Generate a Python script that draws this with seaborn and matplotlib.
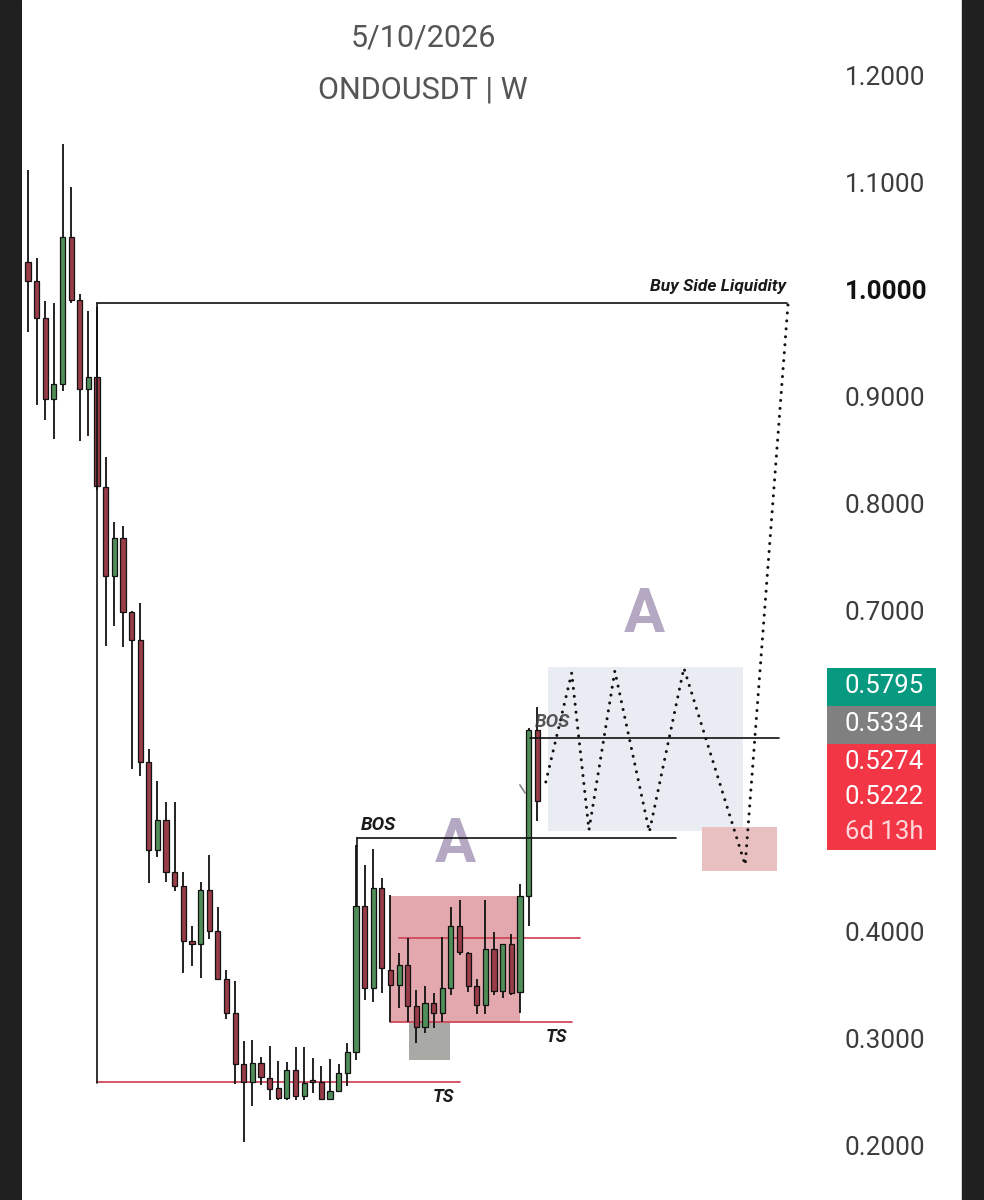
import matplotlib
matplotlib.use("Agg")
import numpy as np
import pandas as pd
import seaborn as sns
import matplotlib.pyplot as plt
import matplotlib.transforms as mtransforms
from matplotlib.patches import Rectangle

# weekly candles, ONDOUSDT
opens = [1.0262, 1.0084, 0.9738, 0.8981, 0.9121, 1.0495, 0.9907, 0.9075, 0.9187, 0.8159,
         0.7327, 0.7682, 0.6991, 0.6729, 0.5589, 0.4766, 0.5047, 0.4561, 0.4430, 0.3916,
         0.3888, 0.4393, 0.4009, 0.3561, 0.3243, 0.2766, 0.2598, 0.2776, 0.2636, 0.2542,
         0.2449, 0.2710, 0.2467, 0.2617, 0.2598, 0.2439, 0.2514, 0.2682, 0.2879, 0.4243,
         0.3477, 0.4411, 0.3645, 0.3505, 0.3692, 0.3308, 0.3112, 0.3336, 0.3243, 0.3477,
         0.4056, 0.3804, 0.3495, 0.3318, 0.3841, 0.3449, 0.3888, 0.3439, 0.4336, 0.5888]
highs = [1.1121, 1.0299, 0.9897, 0.9879, 1.1364, 1.0963, 0.9963, 0.9804, 0.9841, 0.8439,
         0.7832, 0.7794, 0.7000, 0.7075, 0.5710, 0.5411, 0.5215, 0.5215, 0.4561, 0.4056,
         0.4467, 0.4720, 0.4234, 0.3645, 0.3542, 0.2981, 0.2991, 0.2832, 0.2935, 0.2794,
         0.2785, 0.2925, 0.2925, 0.2822, 0.2748, 0.2813, 0.2766, 0.2963, 0.4813, 0.4626,
         0.4776, 0.4505, 0.4346, 0.3804, 0.3944, 0.3458, 0.3495, 0.3430, 0.3953, 0.4234,
         0.4299, 0.3813, 0.3561, 0.4299, 0.4000, 0.3888, 0.3981, 0.4449, 0.5907, 0.6103]
lows = [0.9607, 0.8925, 0.8785, 0.8607, 0.9056, 0.9879, 0.8589, 0.8636, 0.8131, 0.6673,
        0.6860, 0.6664, 0.5523, 0.5458, 0.4458, 0.4701, 0.4467, 0.4383, 0.3617, 0.3682,
        0.3570, 0.3935, 0.3551, 0.3187, 0.2579, 0.2037, 0.2374, 0.2570, 0.2430, 0.2430,
        0.2430, 0.2430, 0.2430, 0.2495, 0.2430, 0.2430, 0.2505, 0.2561, 0.2804, 0.3364,
        0.3346, 0.3430, 0.3159, 0.3290, 0.3159, 0.2963, 0.3056, 0.3103, 0.3159, 0.3411,
        0.3785, 0.3439, 0.3234, 0.3234, 0.3411, 0.3383, 0.3411, 0.3243, 0.4056, 0.5037]
closes = [1.0084, 0.9738, 0.8981, 0.9121, 1.0495, 0.9907, 0.9075, 0.9187, 0.8168, 0.7327,
          0.7682, 0.6991, 0.6729, 0.5589, 0.4766, 0.5047, 0.4561, 0.4430, 0.3916, 0.3888,
          0.4393, 0.4009, 0.3561, 0.3243, 0.2766, 0.2598, 0.2776, 0.2645, 0.2533, 0.2449,
          0.2710, 0.2467, 0.2589, 0.2598, 0.2439, 0.2514, 0.2682, 0.2879, 0.4243, 0.3477,
          0.4411, 0.3664, 0.3505, 0.3692, 0.3308, 0.3112, 0.3336, 0.3243, 0.3477, 0.4056,
          0.3813, 0.3495, 0.3318, 0.3841, 0.3449, 0.3888, 0.3430, 0.4336, 0.5888, 0.5222]

price_ticks = [0.2, 0.3, 0.4, 0.5, 0.6, 0.7, 0.8, 0.9, 1.0, 1.1, 1.2]
hidden_ticks = [0.5, 0.6]  # covered by the price tags
tag_labels = ["0.5795", "0.5334", "0.5274", "0.5222"]
tag_colors = ["#089981", "#808080", "#f23645", "#f23645"]
countdown = "6d 13h"

# levels drawn by hand on the chart
buy_side_level = 0.9879
swept_low = 0.2598
bos_low_level = 0.4879
bos_high_level = 0.5813
range_top, range_bottom = 0.3944, 0.3159
# projected path
path_x = [60.0, 63.0, 65.0, 68.0, 72.0, 76.0, 83.1, 88.1]
path_y = [0.5402, 0.6421, 0.4953, 0.6439, 0.4935, 0.6467, 0.4626, 0.9907]

df = pd.DataFrame({"open": opens, "high": highs, "low": lows, "close": closes})
df["i"] = np.arange(len(df))
df["up"] = df["close"] >= df["open"]

sns.set_theme(style="white")
plt.rcParams["font.family"] = ["Roboto", "DejaVu Sans"]

fig = plt.figure(figsize=(9.84, 12), dpi=100)
fig.patch.set_facecolor("white")
ax = fig.add_axes([22 / 984, 0, 808 / 984, 1])
ax.set_xlim(-0.695, 92.93)
ax.set_ylim(0.1495, 1.2710)
ax.set_facecolor("white")

# dark screen borders
fig.add_artist(Rectangle((0, 0), 21 / 984, 1, transform=fig.transFigure, color="#202020", zorder=0))
fig.add_artist(Rectangle((962 / 984, 0), 22 / 984, 1, transform=fig.transFigure, color="#202020", zorder=0))

# zones
ax.add_patch(Rectangle((60.25, 0.4944), 22.6, 0.1533, color="#e9edf3", zorder=0.5, lw=0))
ax.add_patch(Rectangle((78.1, 0.4570), 8.7, 0.0411, color="#e9c0c1", zorder=0.5, lw=0))
ax.add_patch(Rectangle((41.9, range_bottom), 15.1, 0.1177, color="#e2a8ad", zorder=0.5, lw=0))
ax.add_patch(Rectangle((44.1, 0.2804), 4.8, 0.0355, color="#a9a9a5", zorder=0.5, lw=0))

# candles
ax.vlines(df["i"], df["low"], df["high"], color="#111111", lw=1.3, zorder=3)
bottoms = df[["open", "close"]].min(axis=1)
heights = np.maximum((df["close"] - df["open"]).abs(), 0.002)
body_colors = np.where(df["up"], "#4f8d59", "#983c48")
ax.bar(df["i"], heights, bottom=bottoms, width=0.6, color=body_colors,
       edgecolor="#111111", linewidth=0.9, zorder=4)

# structure lines
ax.plot([8.0, 87.9], [buy_side_level, buy_side_level], color="#111111", lw=1.2, zorder=5)
ax.plot([8.0, 8.0], [buy_side_level, 0.2589], color="#111111", lw=1.2, zorder=5)
ax.plot([8.0, 50.1], [swept_low, swept_low], color="#d04a5a", lw=1.3, zorder=2)
ax.plot([38.1, 38.1], [bos_low_level, 0.4243], color="#111111", lw=1.2, zorder=5)
ax.plot([38.1, 75.1], [bos_low_level, bos_low_level], color="#111111", lw=1.2, zorder=5)
ax.plot([58.2, 87.0], [bos_high_level, bos_high_level], color="#111111", lw=1.2, zorder=5)
ax.plot([43.0, 64.0], [range_top, range_top], color="#d04a5a", lw=1.3, zorder=2)
ax.plot([41.9, 63.0], [range_bottom, range_bottom], color="#d04a5a", lw=1.3, zorder=2)
ax.plot([57.0, 57.6], [0.5374, 0.5299], color="#8a8a8a", lw=1.3, zorder=5)

# dotted projection
sns.lineplot(x=path_x, y=path_y, sort=False, estimator=None, ax=ax, color="#111111",
             lw=2.2, linestyle=(0, (0.01, 2.6)), dash_capstyle="round", zorder=6)

# annotations
lab = dict(fontweight="bold", fontstyle="italic", color="#1a1a1a", zorder=7)
ax.text(87.8, 1.0028, "Buy Side Liquidity", ha="right", va="center", fontsize=12.5, **lab)
ax.text(40.6, 0.5000, "BOS", ha="center", va="center", fontsize=13.5, **lab)
ax.text(60.8, 0.5963, "BOS", ha="center", va="center", fontsize=13.5, fontweight="bold",
        fontstyle="italic", color="#3a3a3a", alpha=0.85, zorder=7)
ax.text(48.1, 0.2458, "TS", ha="center", va="center", fontsize=13, **lab)
ax.text(61.2, 0.3019, "TS", ha="center", va="center", fontsize=13, **lab)
ax.text(49.5, 0.4813, "A", ha="center", va="center", fontsize=44, fontweight="bold",
        color="#b4a8c2", zorder=1)
ax.text(71.4, 0.6963, "A", ha="center", va="center", fontsize=44, fontweight="bold",
        color="#b4a8c2", zorder=1)

# titles
ax.text(0.4963, 1 - 38 / 1200, "5/10/2026", transform=ax.transAxes, ha="center",
        va="center", fontsize=22, color="#555555")
ax.text(0.4963, 1 - 90 / 1200, "ONDOUSDT | W", transform=ax.transAxes, ha="center",
        va="center", fontsize=22, color="#555555")

# price scale
ax.yaxis.tick_right()
ax.set_yticks(price_ticks)
ax.set_yticklabels(["" if t in hidden_ticks else f"{t:.4f}" for t in price_ticks])
ax.tick_params(axis="y", length=0, pad=10.8, labelsize=18.8, labelcolor="#3c3c3c")
for t, lbl in zip(price_ticks, ax.get_yticklabels()):
    if abs(t - 1.0) < 1e-9:
        lbl.set_fontweight("bold")
        lbl.set_color("#111111")
ax.set_xticks([])
sns.despine(ax=ax, left=True, bottom=True, right=True, top=True)

# price tags stacked up from last close
px = (1.2710 - 0.1495) / 1200
c = closes[-1]
trans = mtransforms.blended_transform_factory(ax.transAxes, ax.transData)
x0 = (827 - 22) / 808
w = (936 - 827) / 808
tx = (845 - 22) / 808
boxes = [(c + 95 * px, 38 * px), (c + 57 * px, 38 * px), (c + 18 * px, 39 * px), (c - 49 * px, 67 * px)]
centers = [c + 115 * px, c + 77 * px, c + 39 * px, c + 4 * px]
for (b, h), col, lbl, yc in zip(boxes, tag_colors, tag_labels, centers):
    ax.add_patch(Rectangle((x0, b), w, h, transform=trans, color=col, clip_on=False,
                           zorder=10, lw=0))
    ax.text(tx, yc, lbl, transform=trans, ha="left", va="center", fontsize=18.5,
            color="white", zorder=11, clip_on=False)
ax.text(tx, c - 31 * px, countdown, transform=trans, ha="left", va="center",
        fontsize=18.5, color="#ffd6da", zorder=11, clip_on=False)

fig.savefig("out.png", dpi=100)
